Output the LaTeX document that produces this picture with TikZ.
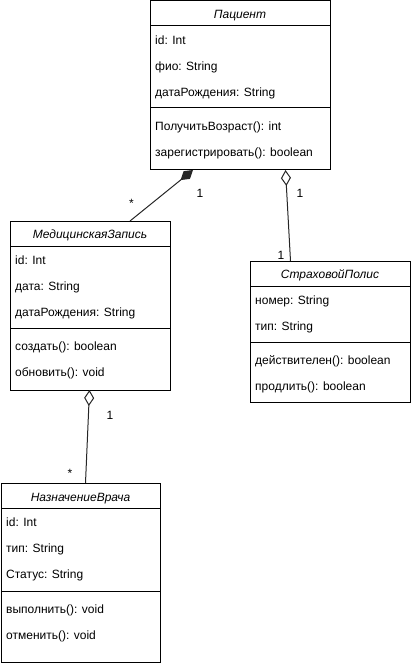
\documentclass[tikz,border=0pt]{standalone}
\usepackage{fontspec}
\setmainfont{Liberation Sans}
\usetikzlibrary{arrows.meta}

% one text line inside a class box, placed by its offset from the box top
\newcommand{\umlrow}[3]{\node[member] at ([xshift=5pt,yshift=-#2pt]#1.north west) {#3};}
% horizontal compartment line at an offset from the box top
\newcommand{\umlrule}[2]{\draw[boxline] ([yshift=-#2pt]#1.north west) -- ([yshift=-#2pt]#1.north east);}

\begin{document}
\begin{tikzpicture}[x=1pt,y=-1pt,
  boxline/.style={line width=1pt, draw=black},
  classbox/.style={boxline, fill=white, anchor=north west, inner sep=0pt, outer sep=0pt},
  txt/.style={font=\fontsize{12}{14}\selectfont, inner sep=0pt, text height=8.6pt, text depth=0pt},
  title/.style={txt, font=\fontsize{12}{14}\selectfont\itshape, anchor=center},
  member/.style={txt, anchor=west},
  mult/.style={txt, anchor=center},
  link/.style={line width=1pt, draw=black!85},
  compos/.style={link, {Diamond[length=16pt,width=10pt]}-},
  aggreg/.style={link, {Diamond[open,length=16pt,width=10pt]}-}]
\useasboundingbox (0,0) rectangle (411,663);

% ---- Пациент ----
\node[classbox, minimum width=180pt, minimum height=169pt] (pat) at (150,1) {};
\node[title] at ([yshift=-13pt]pat.north) {Пациент};
\umlrule{pat}{25}
\umlrow{pat}{39.5}{id: Int}
\umlrow{pat}{65.5}{фио: String}
\umlrow{pat}{91.5}{датаРождения: String}
\umlrule{pat}{107}
\umlrow{pat}{125}{ПолучитьВозраст(): int}
\umlrow{pat}{151}{зарегистрировать(): boolean}

% ---- МедицинскаяЗапись ----
\node[classbox, minimum width=160pt, minimum height=169pt] (med) at (10,221) {};
\node[title] at ([yshift=-13pt]med.north) {МедицинскаяЗапись};
\umlrule{med}{25}
\umlrow{med}{39.5}{id: Int}
\umlrow{med}{65.5}{дата: String}
\umlrow{med}{91.5}{датаРождения: String}
\umlrule{med}{107}
\umlrow{med}{125}{создать(): boolean}
\umlrow{med}{151}{обновить(): void}

% ---- СтраховойПолис ----
\node[classbox, minimum width=160pt, minimum height=141pt] (ins) at (250,261) {};
\node[title] at ([yshift=-13pt]ins.north) {СтраховойПолис};
\umlrule{ins}{25}
\umlrow{ins}{39.5}{номер: String}
\umlrow{ins}{65.5}{тип: String}
\umlrule{ins}{81.5}
\umlrow{ins}{99.5}{действителен(): boolean}
\umlrow{ins}{125}{продлить(): boolean}

% ---- НазначениеВрача ----
\node[classbox, minimum width=159pt, minimum height=179pt] (doc) at (1,483) {};
\node[title] at ([yshift=-14pt]doc.north) {НазначениеВрача};
\umlrule{doc}{25}
\umlrow{doc}{39.5}{id: Int}
\umlrow{doc}{65.5}{тип: String}
\umlrow{doc}{91.5}{Статус: String}
\umlrule{doc}{108}
\umlrow{doc}{126}{выполнить(): void}
\umlrow{doc}{152}{отменить(): void}

% ---- associations ----
\draw[compos] ([xshift=43pt]pat.south west) -- ([xshift=120pt]med.north west);
\draw[aggreg] ([xshift=135.5pt]pat.south west) -- ([xshift=40.5pt]ins.north west);
\draw[aggreg] ([xshift=79.5pt]med.south west) -- ([xshift=84.5pt]doc.north west);

% ---- multiplicities ----
\node[mult] (m1) at (200,193) {1};
\node[mult] (m2) at (131.5,203) {*};
\node[mult] (m3) at (300,193) {1};
\node[mult] (m4) at (281,255) {1};
\node[mult] (m5) at (110,415) {1};
\node[mult] (m6) at (70,473) {*};
\end{tikzpicture}
\end{document}
